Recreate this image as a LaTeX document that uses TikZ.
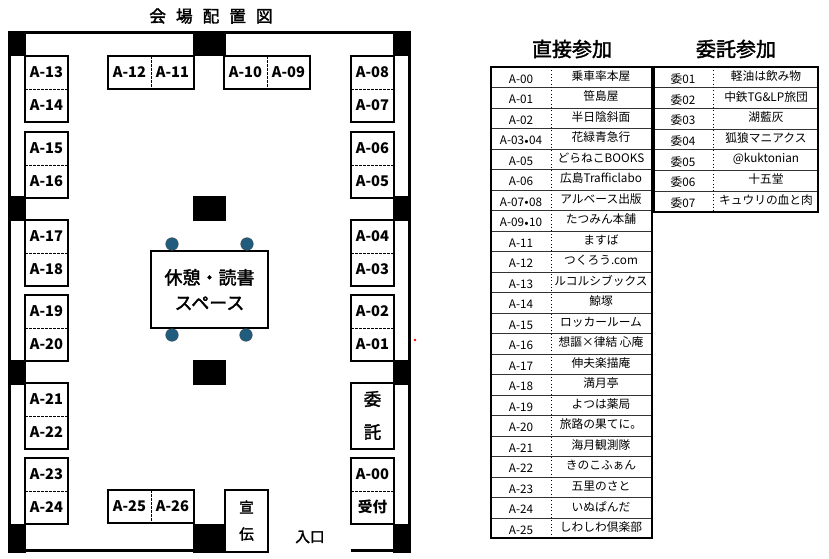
\documentclass[tikz,border=0pt]{standalone}
\usepackage{fontspec}
\setmainfont{Noto Sans CJK JP}
\newfontfamily\cjkb{Noto Sans CJK JP}[FakeBold=2]
\definecolor{seatc}{HTML}{1F5C7E}
\begin{document}
\begin{tikzpicture}[x=0.75pt,y=-0.75pt,
  booth/.style={draw,line width=2.2pt},
  div/.style={dashed,line width=0.6pt,dash pattern=on 2pt off 1pt},
  lab/.style={font=\fontsize{11}{12}\selectfont\bfseries},
  cell/.style={font=\fontsize{8.8}{10}\selectfont},
  hdr/.style={font=\fontsize{15}{17}\cjkb},
  seat/.style={circle,fill=seatc,draw=black!70,line width=0.3pt,minimum size=9.5pt,inner sep=0pt}]
\useasboundingbox (0,0) rectangle (829,559);
\node[font=\fontsize{12.5}{14}\cjkb] (title) at (211,16) {会\hspace{0.6em}場\hspace{0.6em}配\hspace{0.6em}置\hspace{0.6em}図};
% walls
\draw[line width=2.2pt] (9.5,32.5) -- (409.5,32.5) -- (409.5,550.5) -- (351,550.5);
\draw[line width=2.2pt] (268,550.5) -- (9.5,550.5) -- (9.5,32.5);
% pillars
\foreach \y/\h in {31/25,196/25,360/25,524/29}{
  \fill (8,\y) rectangle (26,\y+\h);
  \fill (393,\y) rectangle (411,\y+\h);}
\fill (193,31) rectangle (226,56);
\fill (193,196) rectangle (226,221);
\fill (193,360) rectangle (226,385);
\fill (193,524) rectangle (226,553);
% side booths
\foreach \t/\a/\b in {56/A-13/A-14,132/A-15/A-16,220/A-17/A-18,295/A-19/A-20,383/A-21/A-22,458/A-23/A-24}{
  \draw[booth,fill=white] (25,\t) rectangle (68,\t+66);
  \draw[div] (25,\t+33) -- (68,\t+33);
  \node[lab] at (46.5,\t+16) {\a};
  \node[lab] at (46.5,\t+49) {\b};}
\foreach \t/\a/\b in {56/A-08/A-07,132/A-06/A-05,220/A-04/A-03,295/A-02/A-01,458/A-00/受付}{
  \draw[booth,fill=white] (351,\t) rectangle (394,\t+66);
  \draw[div] (351,\t+33) -- (394,\t+33);
  \node[lab] at (372.5,\t+16) {\a};
  \node[lab] at (372.5,\t+49) {\b};}
\draw[booth,fill=white] (351,383) rectangle (394,449);
\node[font=\fontsize{13}{15}\cjkb] (itaku) at (372.5,399) {委};
\node[font=\fontsize{13}{15}\cjkb] (itaku2) at (372.5,432) {託};
% top / bottom booths
\foreach \l/\a/\b/\t in {108/A-12/A-11/56,224/A-10/A-09/56,108/A-25/A-26/490}{
  \draw[booth,fill=white] (\l,\t) rectangle (\l+86,\t+33);
  \draw[div] (\l+43,\t) -- (\l+43,\t+33);
  \node[lab] at (\l+21.5,\t+16.5) {\a};
  \node[lab] at (\l+64.5,\t+16.5) {\b};}
\draw[booth,fill=white] (225,490) rectangle (268,552);
\node[font=\fontsize{11}{13}\cjkb] (sen) at (246.5,507) {宣};
\node[font=\fontsize{11}{13}\cjkb] (den) at (246.5,534) {伝};
\node[font=\fontsize{11}{13}\cjkb] (iri) at (310,537) {入口};
% rest space
\draw[line width=1.4pt] (151,251) rectangle (268,328);
\node[font=\fontsize{13.5}{19}\cjkb,align=center] (rest) at (209.5,289.5) {休憩・読書\\スペース};
\node[seat] (s1) at (172,244) {};
\node[seat] (s2) at (247,244) {};
\node[seat] (s3) at (172,335) {};
\node[seat] (s4) at (246,335) {};
\fill[red] (415,340) circle (1pt);
% tables
\node[hdr] (h1) at (572,49) {直接参加};
\node[hdr] (h2) at (736,49) {委託参加};
\foreach \c/\n [count=\i from 0] in {A-00/乗車率本屋,A-01/笹島屋,A-02/半日陰斜面,A-03{\raisebox{0.2ex}{\tiny$\bullet$}}04/花緑青急行,A-05/どらねこBOOKS,A-06/広島Trafficlabo,A-07{\raisebox{0.2ex}{\tiny$\bullet$}}08/アルベース出版,A-09{\raisebox{0.2ex}{\tiny$\bullet$}}10/たつみん本舗,A-11/ますば,A-12/つくろう.com,A-13/ルコルシブックス,A-14/鯨塚,A-15/ロッカールーム,A-16/想謳×律結 心庵,A-17/伸夫楽描庵,A-18/満月亭,A-19/よつは薬局,A-20/旅路の果てに。,A-21/海月観測隊,A-22/きのこふぁん,A-23/五里のさと,A-24/いぬぱんだ,A-25/しわしわ倶楽部}{
  \pgfmathsetmacro\yy{67+20.5*\i}
  \node[cell] (lc\i) at (521,\yy+12) {\c};
  \node[cell] (ln\i) at (601,\yy+9) {\n};
  \ifnum\i>0 \draw[line width=0.6pt,black!80] (491,\yy) -- (652,\yy);\fi}
\draw[dotted,line width=0.5pt] (551,67) -- (551,538.5);
\draw[line width=1.5pt] (491,67) rectangle (652,538.5);
\foreach \c/\n [count=\i from 0] in {委01/軽油は飲み物,委02/中鉄TG\&LP旅団,委03/湖藍灰,委04/狐狼マニアクス,委05/@kuktonian,委06/十五堂,委07/キュウリの血と肉}{
  \pgfmathsetmacro\yy{67+20.7*\i}
  \node[cell] (rc\i) at (683,\yy+12) {\c};
  \node[cell] (rn\i) at (766,\yy+9) {\n};
  \ifnum\i>0 \draw[line width=0.6pt,black!80] (654,\yy) -- (818,\yy);\fi}
\draw[dotted,line width=0.5pt] (713,67) -- (713,212);
\draw[line width=1.5pt] (654,67) rectangle (818,212);
\end{tikzpicture}
\end{document}
